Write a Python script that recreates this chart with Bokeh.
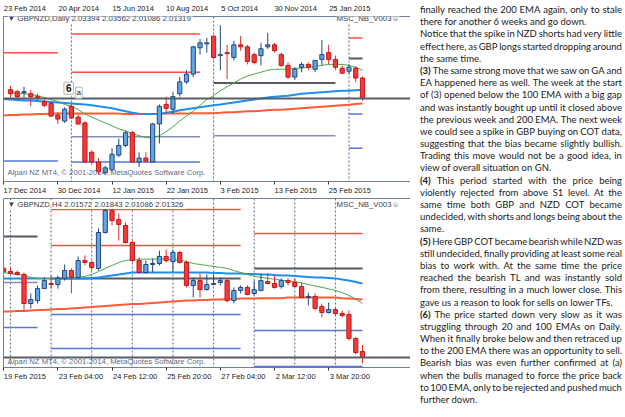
from bokeh.plotting import figure
from bokeh.models import Range1d, LinearAxis, FixedTicker, Span, Label, Div, ColumnDataSource
from bokeh.layouts import row, column
from bokeh.embed import file_html
from bokeh.resources import INLINE

# ---------------- GBPNZD Daily (upper chart) ----------------
daily_idx = list(range(1, 54))
daily_open = [2.0221, 2.0201, 2.0191, 2.0181, 2.0151, 2.0102, 2.0082, 1.9964, 1.9904, 2.0053,
              1.9944, 1.9885, 1.9588, 1.9489, 1.9381, 1.9410, 1.9559, 1.9657, 1.9786, 1.9489,
              1.9529, 1.9489, 1.9875, 2.0072, 2.0023, 2.0181, 2.0300, 2.0379, 2.0645, 2.0685,
              2.0764, 2.0566, 2.0596, 2.0547, 2.0675, 2.0655, 2.0576, 2.0566, 2.0655, 2.0675,
              2.0576, 2.0467, 2.0349, 2.0448, 2.0477, 2.0428, 2.0527, 2.0596, 2.0527, 2.0438,
              2.0408, 2.0438, 2.03394]
daily_high = [2.0260, 2.0221, 2.0250, 2.0221, 2.0181, 2.0122, 2.0102, 1.9993, 2.0043, 2.0072,
              1.9974, 1.9904, 1.9608, 1.9529, 1.9450, 1.9628, 1.9727, 1.9806, 1.9806, 1.9588,
              1.9588, 1.9885, 2.0072, 2.0151, 2.0201, 2.0349, 2.0418, 2.0665, 2.0734, 2.0744,
              2.0764, 2.0873, 2.0675, 2.0715, 2.0764, 2.0675, 2.0596, 2.0695, 2.0794, 2.0695,
              2.0596, 2.0497, 2.0448, 2.0497, 2.0497, 2.0517, 2.0725, 2.0675, 2.0566, 2.0467,
              2.0477, 2.0457, 2.03562]
daily_low = [2.0142, 2.0132, 2.0142, 2.0053, 2.0102, 2.0043, 1.9944, 1.9875, 1.9885, 1.9924,
             1.9865, 1.9480, 1.9460, 1.9361, 1.9361, 1.9391, 1.9539, 1.9638, 1.9489, 1.9440,
             1.9489, 1.9489, 1.9677, 1.9974, 1.9974, 2.0151, 2.0280, 2.0349, 2.0576, 2.0596,
             2.0527, 2.0418, 2.0329, 2.0517, 2.0616, 2.0477, 2.0477, 2.0467, 2.0635, 2.0596,
             2.0448, 2.0329, 2.0319, 2.0398, 2.0418, 2.0398, 2.0467, 2.0477, 2.0418, 2.0379,
             2.0379, 2.0300, 2.01086]
daily_close = [2.0181, 2.0151, 2.0201, 2.0151, 2.0132, 2.0063, 1.9954, 1.9924, 2.0023, 1.9934,
               1.9875, 1.9489, 1.9489, 1.9391, 1.9430, 1.9568, 1.9657, 1.9786, 1.9489, 1.9529,
               1.9499, 1.9875, 2.0053, 2.0033, 2.0151, 2.0300, 2.0379, 2.0655, 2.0695, 2.0695,
               2.0547, 2.0576, 2.0586, 2.0675, 2.0655, 2.0507, 2.0497, 2.0635, 2.0675, 2.0616,
               2.0467, 2.0349, 2.0428, 2.0477, 2.0448, 2.0517, 2.0576, 2.0527, 2.0448, 2.0388,
               2.0448, 2.0339, 2.01319]
daily_ema20_idx = list(range(1, 54))
daily_ema20 = [2.0191, 2.0186, 2.0181, 2.0171, 2.0161, 2.0142, 2.0122, 2.0102, 2.0072, 2.0053,
               2.0023, 1.9974, 1.9944, 1.9914, 1.9885, 1.9855, 1.9825, 1.9806, 1.9776, 1.9756,
               1.9736, 1.9736, 1.9756, 1.9796, 1.9845, 1.9904, 1.9954, 2.0003, 2.0063, 2.0122,
               2.0161, 2.0211, 2.0250, 2.0290, 2.0329, 2.0359, 2.0379, 2.0398, 2.0418, 2.0428,
               2.0428, 2.0428, 2.0438, 2.0438, 2.0448, 2.0457, 2.0467, 2.0477, 2.0477, 2.0477,
               2.0467, 2.0448, 2.0418]
daily_ema_idx = list(range(0, 54))
daily_ema100 = [2.0127, 2.0122, 2.0117, 2.0112, 2.0112, 2.0107, 2.0102, 2.0097, 2.0092, 2.0087,
                2.0082, 2.0077, 2.0072, 2.0063, 2.0053, 2.0043, 2.0033, 2.0018, 2.0003, 1.9988,
                1.9979, 1.9974, 1.9974, 1.9979, 1.9988, 1.9998, 2.0013, 2.0023, 2.0033, 2.0043,
                2.0053, 2.0063, 2.0072, 2.0082, 2.0092, 2.0102, 2.0112, 2.0122, 2.0132, 2.0142,
                2.0151, 2.0156, 2.0161, 2.0171, 2.0181, 2.0186, 2.0191, 2.0196, 2.0201, 2.0206,
                2.0211, 2.0211, 2.0216, 2.0221]
daily_ema200 = [1.9959, 1.9964, 1.9964, 1.9969, 1.9969, 1.9974, 1.9974, 1.9979, 1.9979, 1.9979,
                1.9979, 1.9979, 1.9979, 1.9979, 1.9979, 1.9979, 1.9979, 1.9979, 1.9974, 1.9974,
                1.9974, 1.9974, 1.9974, 1.9974, 1.9979, 1.9979, 1.9979, 1.9979, 1.9984, 1.9984,
                1.9984, 1.9984, 1.9988, 1.9993, 1.9993, 1.9998, 2.0003, 2.0003, 2.0008, 2.0013,
                2.0018, 2.0018, 2.0023, 2.0028, 2.0033, 2.0038, 2.0043, 2.0048, 2.0053, 2.0058,
                2.0063, 2.0068, 2.0077, 2.0082]
daily_ticks = [0, 8, 16, 24, 32, 40, 48]
daily_tick_labels = ["17 Dec 2014", "30 Dec 2014", "12 Jan 2015", "22 Jan 2015",
                     "3 Feb 2015", "13 Feb 2015", "25 Feb 2015"]
weekly_tick_labels = ["23 Feb 2014", "20 Apr 2014", "15 Jun 2014", "10 Aug 2014",
                      "5 Oct 2014", "30 Nov 2014", "25 Jan 2015"]
daily_separators = [10, 31, 51]
daily_bid = 2.01319
daily_piv_start = [0, 0, 10, 10, 10, 10, 31, 31, 51, 51, 51, 51]
daily_piv_end = [8, 8, 29, 29, 29, 29, 49, 49, 53, 53, 53, 53]
daily_piv_price = [2.0596, 1.9499, 2.0784, 2.0398, 1.9746, 1.9489, 2.0290, 1.9756,
                   2.0744, 2.0537, 1.9974, 1.9628]
daily_piv_kind = ["r", "s", "r", "r", "m", "s", "pp", "m", "r", "pp", "s", "s"]
daily_range = (1.92921, 2.09619)
note_text = ["6", "a"]
note_x = [9.6, 11.1]
note_y = [2.0236, 2.0191]

# ---------------- GBPNZD H4 (lower chart) ----------------
h4_idx = list(range(0, 54))
h4_open = [2.0498, 2.0485, 2.0481, 2.0473, 2.0354, 2.0366, 2.0415, 2.0436, 2.0432, 2.0457,
           2.0489, 2.0461, 2.0530, 2.0522, 2.0498, 2.0645, 2.0735, 2.0698, 2.0674, 2.0604,
           2.0530, 2.0481, 2.0514, 2.0518, 2.0547, 2.0526, 2.0563, 2.0522, 2.0428, 2.0448,
           2.0411, 2.0432, 2.0440, 2.0448, 2.0366, 2.0407, 2.0420, 2.0395, 2.0407, 2.0444,
           2.0436, 2.0424, 2.0448, 2.0440, 2.0424, 2.0379, 2.0383, 2.0342, 2.0317, 2.0329,
           2.0313, 2.0309, 2.0211, 2.01572]
h4_high = [2.0506, 2.0498, 2.0489, 2.0481, 2.0395, 2.0428, 2.0461, 2.0469, 2.0469, 2.0514,
           2.0498, 2.0547, 2.0551, 2.0530, 2.0662, 2.0744, 2.0744, 2.0723, 2.0686, 2.0612,
           2.0543, 2.0530, 2.0539, 2.0571, 2.0575, 2.0575, 2.0571, 2.0530, 2.0461, 2.0477,
           2.0473, 2.0473, 2.0461, 2.0457, 2.0420, 2.0428, 2.0428, 2.0448, 2.0477, 2.0477,
           2.0469, 2.0457, 2.0457, 2.0457, 2.0440, 2.0399, 2.0395, 2.0354, 2.0358, 2.0338,
           2.0325, 2.0325, 2.0215, 2.01843]
h4_low = [2.0481, 2.0473, 2.0469, 2.0325, 2.0334, 2.0354, 2.0415, 2.0415, 2.0415, 2.0448,
          2.0395, 2.0457, 2.0510, 2.0489, 2.0489, 2.0641, 2.0674, 2.0612, 2.0600, 2.0522,
          2.0477, 2.0477, 2.0481, 2.0510, 2.0522, 2.0485, 2.0518, 2.0420, 2.0379, 2.0379,
          2.0407, 2.0428, 2.0428, 2.0358, 2.0354, 2.0395, 2.0387, 2.0387, 2.0407, 2.0432,
          2.0415, 2.0415, 2.0428, 2.0420, 2.0375, 2.0346, 2.0325, 2.0297, 2.0313, 2.0305,
          2.0297, 2.0202, 2.0145, 2.01086]
h4_close = [2.0485, 2.0477, 2.0473, 2.0354, 2.0370, 2.0415, 2.0448, 2.0432, 2.0457, 2.0489,
            2.0461, 2.0530, 2.0522, 2.0502, 2.0645, 2.0735, 2.0694, 2.0678, 2.0604, 2.0530,
            2.0481, 2.0514, 2.0518, 2.0547, 2.0530, 2.0563, 2.0522, 2.0428, 2.0448, 2.0411,
            2.0432, 2.0436, 2.0448, 2.0366, 2.0407, 2.0420, 2.0391, 2.0411, 2.0448, 2.0436,
            2.0420, 2.0448, 2.0440, 2.0424, 2.0379, 2.0383, 2.0334, 2.0317, 2.0329, 2.0313,
            2.0305, 2.0211, 2.0153, 2.01326]
h4_ema20 = [2.0481, 2.0477, 2.0473, 2.0469, 2.0461, 2.0457, 2.0457, 2.0457, 2.0457, 2.0457,
            2.0461, 2.0461, 2.0465, 2.0473, 2.0485, 2.0498, 2.0510, 2.0522, 2.0530, 2.0534,
            2.0536, 2.0536, 2.0536, 2.0536, 2.0536, 2.0534, 2.0532, 2.0526, 2.0518, 2.0514,
            2.0510, 2.0506, 2.0502, 2.0498, 2.0489, 2.0481, 2.0473, 2.0465, 2.0461, 2.0457,
            2.0454, 2.0450, 2.0446, 2.0444, 2.0438, 2.0432, 2.0426, 2.0420, 2.0414, 2.0407,
            2.0399, 2.0387, 2.0372, 2.0354]
h4_ema100 = [2.0457, 2.0457, 2.0457, 2.0457, 2.0457, 2.0457, 2.0457, 2.0457, 2.0457, 2.0457,
             2.0457, 2.0457, 2.0457, 2.0459, 2.0461, 2.0465, 2.0469, 2.0473, 2.0477, 2.0481,
             2.0481, 2.0481, 2.0481, 2.0481, 2.0481, 2.0481, 2.0481, 2.0481, 2.0481, 2.0481,
             2.0481, 2.0479, 2.0479, 2.0477, 2.0477, 2.0477, 2.0475, 2.0475, 2.0473, 2.0473,
             2.0471, 2.0469, 2.0469, 2.0467, 2.0465, 2.0463, 2.0461, 2.0461, 2.0459, 2.0457,
             2.0452, 2.0448, 2.0442, 2.0436]
h4_ema200 = [2.0321, 2.0321, 2.0323, 2.0323, 2.0325, 2.0327, 2.0327, 2.0329, 2.0331, 2.0331,
             2.0334, 2.0336, 2.0338, 2.0340, 2.0342, 2.0344, 2.0346, 2.0348, 2.0350, 2.0352,
             2.0352, 2.0354, 2.0356, 2.0358, 2.0360, 2.0362, 2.0364, 2.0366, 2.0366, 2.0368,
             2.0368, 2.0370, 2.0370, 2.0372, 2.0372, 2.0374, 2.0374, 2.0374, 2.0376, 2.0376,
             2.0376, 2.0376, 2.0379, 2.0379, 2.0379, 2.0379, 2.0379, 2.0379, 2.0379, 2.0379,
             2.0376, 2.0374, 2.0372, 2.0370]
h4_ticks = [0, 8, 16, 24, 32, 40, 48]
h4_tick_labels = ["19 Feb 2015", "23 Feb 04:00", "24 Feb 12:00", "25 Feb 20:00",
                  "27 Feb 04:00", "2 Mar 12:00", "3 Mar 20:00"]
h4_separators = [1, 7, 13, 19, 25, 31, 37, 43, 49]
h4_bid = 2.01326
h4_piv_start = [0, 0, 0, 7, 7, 7, 7, 7, 37, 37, 37, 37]
h4_piv_end = [5, 5, 5, 35, 35, 35, 35, 35, 53, 53, 53, 53]
h4_piv_price = [2.0629, 2.0440, 2.0256, 2.0739, 2.0592, 2.0457, 2.0309, 2.0170,
                2.0641, 2.0498, 2.0243, 2.0096]
h4_piv_kind = ["pp", "m", "s", "r", "r", "pp", "s", "s", "r", "pp", "s", "s"]
h4_range = (2.00916, 2.07845)

# ---------------- commentary text ----------------
text_lines = [
    "finally reached the 200 EMA again, only to stale",
    "there for another 6 weeks and go down.",
    "Notice that the spike in NZD shorts had very little",
    "effect here, as GBP longs started dropping around",
    "the same time.",
    "(3) The same strong move that we saw on GA and",
    "EA happened here as well. The week at the start",
    "of (3) opened below the 100 EMA with a big gap",
    "and was instantly bought up until it closed above",
    "the previous week and 200 EMA. The next week",
    "we could see a spike in GBP buying on COT data,",
    "suggesting that the bias became slightly bullish.",
    "Trading this move would not be a good idea, in",
    "view of overall situation on GN.",
    "(4) This period started with the price being",
    "violently rejected from above S1 level. At the",
    "same time both GBP and NZD COT became",
    "undecided, with shorts and longs being about the",
    "same.",
    "(5) Here GBP COT became bearish while NZD was",
    "still undecided, finally providing at least some real",
    "bias to work with. At the same time the price",
    "reached the bearish TL and was instantly sold",
    "from there, resulting in a much lower close. This",
    "gave us a reason to look for sells on lower TFs.",
    "(6) The price started down very slow as it was",
    "struggling through 20 and 100 EMAs on Daily.",
    "When it finally broke below and then retraced up",
    "to the 200 EMA there was an opportunity to sell.",
    "Bearish bias was even further confirmed at (a)",
    "when the bulls managed to force the price back",
    "to 100 EMA, only to be rejected and pushed much",
    "further down.",
]
paragraph_ends = [1, 4, 13, 18, 24, 32]
bold_marks = ["(3)", "(4)", "(5)", "(6)"]

# ---------------- styling ----------------
X0, X1 = -0.03, 60.09
PX_PER_UNIT = 407 / (X1 - X0)
FRAME = "#6f7f99"
AXFONT = "Liberation Sans"
BULL_FILL, BULL_LINE = "#5ea6e6", "#22457e"
BEAR_FILL, BEAR_LINE, BEAR_WICK = "#f23a3a", "#c01818", "#e02a2a"
PIV_STYLE = {"r": ("#ff4d40", 1.5), "pp": ("#555a62", 2), "m": ("#8391b8", 1.5), "s": ("#5577d6", 1.5)}


def label_centers(ticks, labels):
    return [t + len(s) * 3.85 / 2 / PX_PER_UNIT for t, s in zip(ticks, labels)]


def line_axis(**kw):
    return LinearAxis(ticker=FixedTicker(ticks=[]), major_tick_out=0, major_tick_in=0,
                      major_label_standoff=0, axis_line_color=FRAME,
                      major_tick_line_color=None, minor_tick_line_color=None, **kw)


def make_chart(height, top, bottom, yr, idx, o, h, l, c, emas, piv, seps, bid,
               ticks, labels, header, copyright_y, top_labels=None):
    p = figure(width=410, height=height, x_range=Range1d(X0, X1), y_range=Range1d(*yr),
               output_backend="svg", toolbar_location=None,
               x_axis_location=None, y_axis_location=None,
               min_border_left=3, min_border_right=0, min_border_top=top, min_border_bottom=bottom,
               background_fill_color="white", border_fill_color="white", outline_line_color=None)
    p.grid.visible = False

    # frame lines / axes
    p.add_layout(line_axis(), "left")
    centers = label_centers(ticks, labels)
    bottom_ax = LinearAxis(ticker=FixedTicker(ticks=centers, minor_ticks=ticks),
                           major_label_overrides={cc: s for cc, s in zip(centers, labels)},
                           major_tick_line_color=None, major_tick_out=2, major_tick_in=0,
                           minor_tick_out=3, minor_tick_in=0, minor_tick_line_color="#333333",
                           axis_line_color=FRAME, major_label_standoff=1,
                           major_label_text_font=AXFONT, major_label_text_font_size="7.5px",
                           major_label_text_color="#222222")
    p.add_layout(bottom_ax, "below")
    if top_labels is not None:
        tc = label_centers(ticks, top_labels)
        top_ax = LinearAxis(ticker=FixedTicker(ticks=tc),
                            major_label_overrides={cc: s for cc, s in zip(tc, top_labels)},
                            major_tick_line_color=None, major_tick_out=0, major_tick_in=0,
                            minor_tick_line_color=None, axis_line_color=FRAME,
                            major_label_standoff=4, major_label_text_font=AXFONT,
                            major_label_text_font_size="7.5px", major_label_text_color="#222222")
        p.add_layout(top_ax, "above")
    else:
        p.add_layout(line_axis(), "above")

    for s in seps:
        p.add_layout(Span(location=s, dimension="height", line_color="#5f6b80",
                          line_dash="2 2", line_width=1, level="underlay"))

    ps, pe, pp, pk = piv
    psrc = ColumnDataSource(dict(x0=ps, x1=pe, y=pp,
                                 color=[PIV_STYLE[k][0] for k in pk],
                                 w=[PIV_STYLE[k][1] for k in pk]))
    p.segment(x0="x0", y0="y", x1="x1", y1="y", line_color="color", line_width="w", source=psrc)

    for ex, ey, col, w in emas:
        p.line(ex, ey, line_color=col, line_width=w)

    up = [cc >= oo for oo, cc in zip(o, c)]
    src = ColumnDataSource(dict(
        x=idx, high=h, low=l,
        top=[max(a, b) for a, b in zip(o, c)],
        bottom=[min(a, b) for a, b in zip(o, c)],
        fill=[BULL_FILL if u else BEAR_FILL for u in up],
        edge=[BULL_LINE if u else BEAR_LINE for u in up],
        wick=[BULL_LINE if u else BEAR_WICK for u in up],
    ))
    p.segment(x0="x", y0="low", x1="x", y1="high", line_color="wick", line_width=1, source=src)
    p.vbar(x="x", width=0.62, top="top", bottom="bottom", fill_color="fill",
           line_color="edge", line_width=1, source=src)

    p.add_layout(Span(location=bid, dimension="width", line_color="#575d66", line_width=2))

    p.add_layout(Label(x=4, y=163, x_units="screen", y_units="screen", text=header,
                       text_font=AXFONT, text_font_size="7.8px", text_color="#3a4150",
                       text_baseline="middle", background_fill_color="white"))
    p.add_layout(Label(x=333, y=163, x_units="screen", y_units="screen", text="MSC_NB_V003\u263a",
                       text_font=AXFONT, text_font_size="7.8px", text_color="#3a4150",
                       text_baseline="middle", background_fill_color="white"))
    p.add_layout(Label(x=4, y=copyright_y, x_units="screen", y_units="screen",
                       text="Alpari NZ MT4, \u00a9 2001-2014, MetaQuotes Software Corp.",
                       text_font=AXFONT, text_font_size="7.7px", text_color="#5d6b82",
                       text_baseline="middle"))
    return p


p1 = make_chart(197, 13, 15, daily_range, daily_idx, daily_open, daily_high, daily_low, daily_close,
                [(daily_ema_idx, daily_ema200, "#ff5a36", 2),
                 (daily_ema_idx, daily_ema100, "#1e8ff0", 2),
                 (daily_ema20_idx, daily_ema20, "#4da64d", 1)],
                (daily_piv_start, daily_piv_end, daily_piv_price, daily_piv_kind),
                daily_separators, daily_bid, daily_ticks, daily_tick_labels,
                "\u25bc GBPNZD,Daily  2.03394 2.03562 2.01086 2.01319", 9,
                top_labels=weekly_tick_labels)
for t, nx, ny in zip(note_text, note_x, note_y):
    big = t == "6"
    p1.add_layout(Label(x=nx, y=ny, text=t, text_align="center", text_baseline="middle",
                        text_font=AXFONT, text_font_size="10px" if big else "8px",
                        text_font_style="bold" if big else "normal", text_color="#111111",
                        background_fill_color="white", border_line_color="#b5b5b5",
                        padding=2 if big else 1))

p2 = make_chart(220, 1, 50, h4_range, h4_idx, h4_open, h4_high, h4_low, h4_close,
                [(h4_idx, h4_ema200, "#ff5a36", 2),
                 (h4_idx, h4_ema100, "#1e8ff0", 2),
                 (h4_idx, h4_ema20, "#4da64d", 1)],
                (h4_piv_start, h4_piv_end, h4_piv_price, h4_piv_kind),
                h4_separators, h4_bid, h4_ticks, h4_tick_labels,
                "\u25bc GBPNZD,H4  2.01572 2.01843 2.01086 2.01326", 6)

# text panel
parts = []
for k, ln in enumerate(text_lines):
    words = ln.split(" ")
    spans = []
    for j, w in enumerate(words):
        if j == 0 and w in bold_marks:
            spans.append("<b>%s</b>" % w)
        else:
            spans.append("<span>%s</span>" % w)
    if k in paragraph_ends:
        parts.append('<div style="white-space:nowrap;height:12.2px">' + " ".join(spans) + "</div>")
    else:
        parts.append('<div style="display:flex;justify-content:space-between;white-space:nowrap;'
                     'height:12.2px">' + "".join(spans) + "</div>")
html = ('<div style="position:relative;left:5px;top:-1px;width:202px;font-family:Lato;'
        'font-size:9.5px;line-height:12.2px;color:#1a1a1a">' + "".join(parts) + "</div>")
text_div = Div(text=html, width=215, height=417)

layout = row(column(p1, p2), text_div)
out = file_html(layout, INLINE)
out = out.replace("<head>", "<head><style>html,body{margin:0;padding:0;}</style>", 1)
open("out.html", "w").write(out)
